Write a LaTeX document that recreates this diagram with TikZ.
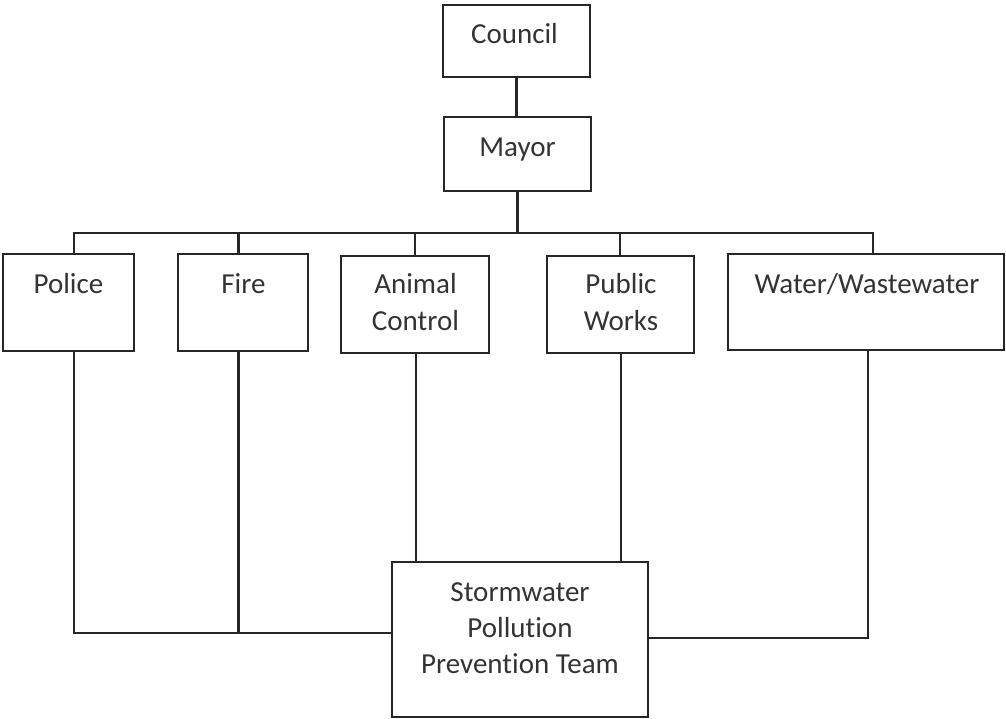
\documentclass[tikz,border=0pt]{standalone}
\usepackage{fontspec}
\setmainfont{Carlito}[Ligatures={NoCommon}]
\begin{document}
\begin{tikzpicture}[x=1pt,y=-1pt,
  box/.style={draw=black!85, line width=2.4pt, rectangle, inner sep=0pt},
  txt/.style={font=\fontsize{29}{36}\selectfont, text=black!80, align=center, anchor=base, inner sep=0pt},
  conn/.style={draw=black!85, line width=2.4pt}]
\useasboundingbox (0,0) rectangle (1006,719);
% boxes
\node[box, minimum width=147, minimum height=72] (council) at (516.5,41) {};
\node[box, minimum width=147, minimum height=74] (mayor) at (517.5,154) {};
\node[box, minimum width=131, minimum height=97] (police) at (68.5,302.5) {};
\node[box, minimum width=130, minimum height=97] (fire) at (243,302.5) {};
\node[box, minimum width=148, minimum height=97] (animal) at (415,304.5) {};
\node[box, minimum width=147, minimum height=97] (public) at (620.5,304.5) {};
\node[box, minimum width=276, minimum height=96] (water) at (866,302) {};
\node[box, minimum width=256, minimum height=155] (storm) at (520,639.5) {};
% texts (base anchor = baseline of the last line)
\node[txt] (councilT) at (514.5,44) {Council};
\node[txt] (mayorT) at (517.5,157) {Mayor};
\node[txt] (policeT) at (68.5,294) {Police};
\node[txt] (fireT) at (243.5,294) {Fire};
\node[txt] (animalT) at (415.5,330) {Animal\\Control};
\node[txt] (publicT) at (621,330) {Public\\Works};
\node[txt] (waterT) at (867,293) {Water/Wastewater};
\node[txt] (stormT) at (520,673) {Stormwater\\Pollution\\Prevention Team};
% connectors top
\draw[conn] (council.south) -- (council.south |- mayor.north);
\draw[conn] (mayor.south) -- ++(0,41) coordinate (bus);
\draw[conn] (bus) -| ([xshift=5.5]police.north);
\draw[conn] (bus) -| ([xshift=-4.5]fire.north);
\draw[conn] (bus) -| (animal.north);
\draw[conn] (bus) -| ([xshift=-0.5]public.north);
\draw[conn] (bus) -| ([xshift=7]water.north);
% connectors bottom
\draw[conn] ([xshift=5.5]police.south) |- ([yshift=6.5]storm.west);
\draw[conn] ([xshift=-4.5]fire.south) -- ++(0,282);
\draw[conn] ([xshift=1]animal.south) -- ([xshift=1]animal.south |- storm.north);
\draw[conn] ([xshift=0.5]public.south) -- ([xshift=0.5]public.south |- storm.north);
\draw[conn] ([xshift=2]water.south) |- ([yshift=1.5]storm.east);
\end{tikzpicture}
\end{document}
